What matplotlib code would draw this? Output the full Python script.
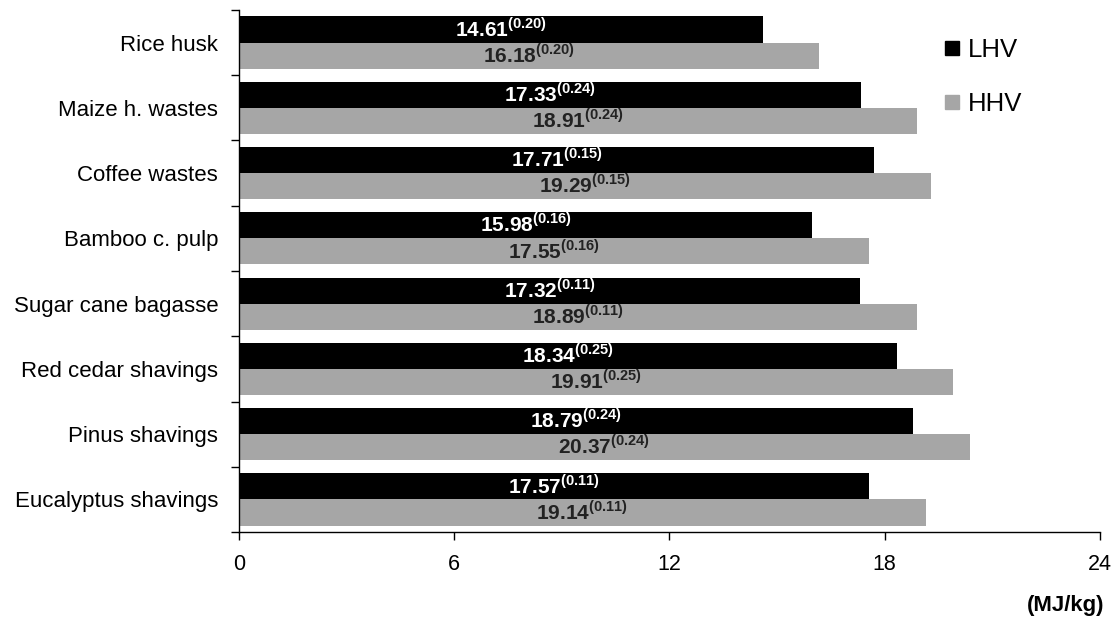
import numpy as np
import matplotlib
matplotlib.use("Agg")
import matplotlib.pyplot as plt
from matplotlib.lines import Line2D
from matplotlib.ticker import FixedLocator

plt.rcParams["font.family"] = ["Liberation Sans", "DejaVu Sans"]
plt.rcParams["mathtext.fontset"] = "custom"
plt.rcParams["mathtext.rm"] = "Liberation Sans"
plt.rcParams["mathtext.bf"] = "Liberation Sans:bold"

# ── data ─────────────────────────────────────────────
materials = ["Rice husk", "Maize h. wastes", "Coffee wastes", "Bamboo c. pulp",
             "Sugar cane bagasse", "Red cedar shavings", "Pinus shavings",
             "Eucalyptus shavings"]
lhv = [14.61, 17.33, 17.71, 15.98, 17.32, 18.34, 18.79, 17.57]
hhv = [16.18, 18.91, 19.29, 17.55, 18.89, 19.91, 20.37, 19.14]
sd = [0.20, 0.24, 0.15, 0.16, 0.11, 0.25, 0.24, 0.11]
xticks = [0, 6, 12, 18, 24]

BLACK = "#000000"
GRAY = "#a6a6a6"

fig = plt.figure(figsize=(11.13, 6.23), dpi=100)
ax = fig.add_axes([0.2147, 0.146, 0.7736, 0.838])

y = np.arange(len(materials))
h = 0.4
ax.barh(y - h / 2, lhv, height=h, color=BLACK, zorder=2)
ax.barh(y + h / 2, hhv, height=h, color=GRAY, zorder=2)


def label(v, s):
    return r"$\mathbf{%.2f}^{\mathbf{(%.2f)}}$" % (v, s)


for i in range(len(materials)):
    ax.text(lhv[i] / 2, y[i] - h / 2 - 0.02, label(lhv[i], sd[i]), color="white",
            ha="center", va="center", fontsize=15, zorder=3)
    ax.text(hhv[i] / 2, y[i] + h / 2 - 0.02, label(hhv[i], sd[i]), color="#222222",
            ha="center", va="center", fontsize=15, zorder=3)

ax.set_xlim(0, 24)
ax.set_ylim(len(materials) - 0.5, -0.5)
ax.set_xticks(xticks)
ax.set_xticklabels([str(t) for t in xticks], fontsize=15.5)
ax.set_yticks(y)
ax.set_yticklabels(materials, fontsize=16)
ax.tick_params(axis="y", which="major", length=0, pad=15)
ax.yaxis.set_minor_locator(FixedLocator(np.arange(-0.5, len(materials), 1.0)))
ax.tick_params(axis="y", which="minor", length=6, width=1)
ax.tick_params(axis="x", length=6, width=1, pad=10)

for side in ("top", "right"):
    ax.spines[side].set_visible(False)
for side in ("left", "bottom"):
    ax.spines[side].set_linewidth(1)

handles = [Line2D([], [], marker="s", ls="", color=BLACK, markersize=10.5),
           Line2D([], [], marker="s", ls="", color=GRAY, markersize=10.5)]
ax.legend(handles, ["LHV", "HHV"], loc="upper left", bbox_to_anchor=(0.803, 0.97),
          frameon=False, fontsize=18.5, handlelength=0.7, handletextpad=0.25,
          labelspacing=1.15, borderpad=0)

fig.text(0.992, 0.012, "(MJ/kg)", ha="right", va="bottom", fontsize=16,
         fontweight="bold")

fig.savefig("out.png", dpi=100)
